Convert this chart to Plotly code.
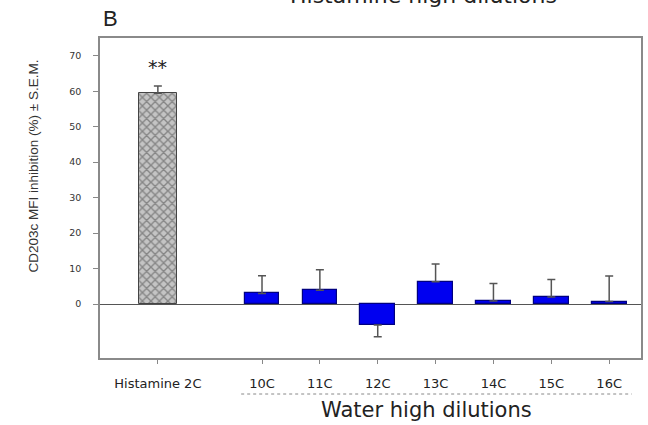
import plotly.graph_objects as go

# ---- data ----
control_label = ["Histamine 2C"]
control_value = [59.4]
control_sem = [2.1]

dilution_labels = ["10C", "11C", "12C", "13C", "14C", "15C", "16C"]
dilution_values = [3.0, 3.9, -5.9, 6.3, 0.9, 2.0, 0.7]
dilution_sem = [5.0, 5.8, 3.3, 5.0, 4.9, 4.9, 7.2]

y_tick_values = [0, 10, 20, 30, 40, 50, 60, 70]
significance = "**"
y_title = "CD203c MFI inhibition (%) ± S.E.M."

# ---- layout positions (numeric x axis) ----
control_pos = [1.2]
dilution_pos = [3, 4, 5, 6, 7, 8, 9]

FONT = "DejaVu Sans"
L, R, T, B = 100, 7, 38, 67
W, H = 648, 425
PW, PH = W - L - R, H - T - B


def px(xp):
    return (xp - L) / PW


def py(yp):
    return (H - B - yp) / PH


# one-sided error bars (up for positive bars, down for negative bars)
up = [s if v >= 0 else 0 for v, s in zip(dilution_values, dilution_sem)]
down = [0 if v >= 0 else s for v, s in zip(dilution_values, dilution_sem)]

fig = go.Figure()

fig.add_trace(go.Bar(
    x=control_pos, y=control_value, width=0.66,
    marker=dict(color="#bdbdbd",
                line=dict(color="#444444", width=1),
                pattern=dict(shape="x", fgcolor="#454545", bgcolor="#c4c4c4",
                             size=6, solidity=0.4)),
    error_y=dict(type="data", array=control_sem, arrayminus=[0],
                 symmetric=False, color="#555555", thickness=1.5, width=4),
    showlegend=False,
))

fig.add_trace(go.Bar(
    x=dilution_pos, y=dilution_values, width=0.6,
    marker=dict(color="#0000f0", line=dict(color="#000080", width=1.2)),
    error_y=dict(type="data", array=up, arrayminus=down, symmetric=False,
                 color="#555555", thickness=1.5, width=4),
    showlegend=False,
))

fig.add_annotation(x=control_pos[0], y=control_value[0] + control_sem[0] + 5.3,
                   xref="x", yref="y", text=significance, showarrow=False,
                   font=dict(family=FONT, size=19, color="#222222"),
                   yanchor="middle")

# panel letter, titles, y-axis title
fig.add_annotation(x=px(110.5), y=py(18.5), xref="paper", yref="paper",
                   text="B", showarrow=False,
                   font=dict(family="Liberation Sans", size=22, color="#222222"),
                   xanchor="center", yanchor="middle")
fig.add_annotation(x=px(423), y=py(-4), xref="paper", yref="paper",
                   text="Histamine high dilutions", showarrow=False,
                   font=dict(family=FONT, size=22, color="#222222"),
                   xanchor="center", yanchor="middle")
fig.add_annotation(x=px(426.5), y=py(410), xref="paper", yref="paper",
                   text="Water high dilutions", showarrow=False,
                   font=dict(family=FONT, size=21, color="#222222"),
                   xanchor="center", yanchor="middle")
fig.add_annotation(x=px(33), y=py(166.5), xref="paper", yref="paper",
                   text=y_title, textangle=-90, showarrow=False,
                   font=dict(family="Liberation Sans", size=13.5, color="#333333"),
                   xanchor="center", yanchor="middle")

# dashed underline grouping the water dilutions
fig.add_shape(type="line", xref="x", yref="paper",
              x0=dilution_pos[0] - 0.36, x1=dilution_pos[-1] + 0.39,
              y0=py(394), y1=py(394),
              line=dict(color="#888888", width=1, dash="dot"))

fig.update_layout(
    width=W, height=H,
    margin=dict(l=L, r=R, t=T, b=B, autoexpand=False),
    paper_bgcolor="white", plot_bgcolor="white",
    bargap=0,
    font=dict(family=FONT, color="#333333"),
)

fig.update_xaxes(
    range=[0.2, 9.55], automargin=False,
    tickmode="array",
    tickvals=control_pos + dilution_pos,
    ticktext=control_label + dilution_labels,
    ticks="outside", ticklen=4, tickcolor="#888888", tickwidth=1,
    tickfont=dict(family=FONT, size=13, color="#222222"),
    ticklabelstandoff=9,
    showline=True, linecolor="#8a8a8a", linewidth=1.5, mirror=True,
    showgrid=False, zeroline=False,
)

fig.update_yaxes(
    range=[-15.2, 75], automargin=False,
    tickmode="array", tickvals=y_tick_values,
    ticks="outside", ticklen=5, tickcolor="#888888", tickwidth=1,
    tickfont=dict(family=FONT, size=9.5, color="#333333"),
    ticklabelstandoff=10,
    showline=True, linecolor="#8a8a8a", linewidth=1.5, mirror=True,
    showgrid=False,
    zeroline=True, zerolinecolor="#555555", zerolinewidth=1,
)

fig.write_html("out.html",
               config={"displayModeBar": False},
               post_script="document.body.style.margin='0px';")
